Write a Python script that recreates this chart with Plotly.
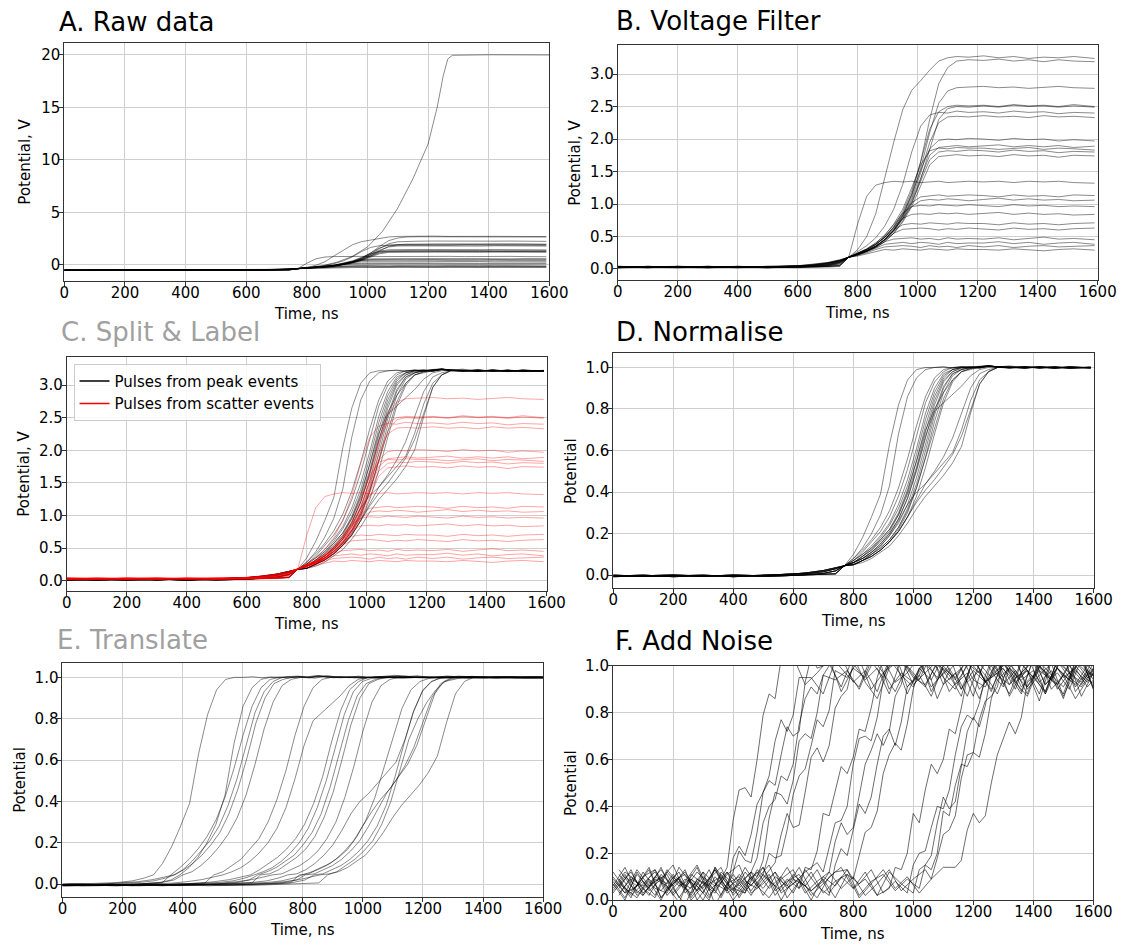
import plotly.graph_objects as go

W, H = 1145, 952
FONT = "DejaVu Sans"

# ---------------- data ----------------
x_ticks = [0, 200, 400, 600, 800, 1000, 1200, 1400, 1600]

# B. voltage-filtered pulses (V) on a shared time grid (ns)
t_filtered = [0, 100, 200, 300, 400, 500, 600, 650, 700, 740, 770,
              800, 830, 860, 890, 920, 950, 980, 1010, 1040, 1070, 1100, 1130, 1170,
              1220, 1270, 1320, 1370, 1420, 1470, 1520, 1590]
filtered_pulses = [
    [0.03,0.04,0.03,0.03,0.04,0.03,0.05,0.06,0.09,0.13,0.18, 0.30,0.50,0.85,1.40,1.95,2.45,2.75,2.90,3.06,3.20,3.25,3.27,3.26, 3.28,3.25,3.27,3.24,3.26,3.25,3.27,3.24],
    [0.02,0.03,0.04,0.03,0.02,0.04,0.03,0.04,0.06,0.10,0.18, 0.23,0.28,0.35,0.45,0.60,0.82,1.15,1.65,2.30,2.85,3.10,3.20,3.22, 3.21,3.23,3.20,3.22,3.19,3.22,3.20,3.19],
    [0.04,0.03,0.03,0.04,0.03,0.02,0.03,0.04,0.05,0.08,0.18, 0.23,0.28,0.35,0.45,0.60,0.82,1.12,1.55,2.10,2.55,2.74,2.79,2.80, 2.81,2.79,2.80,2.78,2.80,2.81,2.79,2.78],
    [0.03,0.02,0.04,0.03,0.03,0.04,0.05,0.07,0.10,0.14,0.18, 0.24,0.30,0.38,0.49,0.65,0.88,1.20,1.65,2.15,2.42,2.50,2.52,2.51, 2.52,2.50,2.53,2.51,2.52,2.50,2.53,2.50],
    [0.03,0.04,0.02,0.03,0.04,0.03,0.04,0.05,0.08,0.12,0.18, 0.27,0.36,0.48,0.66,0.92,1.30,1.80,2.20,2.37,2.41,2.40,2.43,2.41, 2.42,2.40,2.43,2.41,2.42,2.39,2.41,2.40],
    [0.02,0.03,0.03,0.04,0.03,0.03,0.02,0.03,0.04,0.06,0.18, 0.23,0.28,0.35,0.46,0.60,0.80,1.08,1.48,1.95,2.25,2.34,2.35,2.34, 2.36,2.34,2.35,2.33,2.36,2.34,2.35,2.33],
    [0.04,0.03,0.04,0.02,0.03,0.04,0.03,0.05,0.07,0.11,0.18, 0.22,0.27,0.33,0.42,0.55,0.74,1.00,1.38,1.85,2.30,2.47,2.50,2.49, 2.51,2.49,2.52,2.50,2.51,2.49,2.51,2.49],
    [0.03,0.03,0.02,0.04,0.03,0.02,0.04,0.06,0.09,0.13,0.18, 0.24,0.30,0.38,0.49,0.64,0.85,1.15,1.52,1.85,1.98,2.00,1.99,2.01, 2.00,1.98,2.01,1.99,2.00,1.97,1.99,1.97],
    [0.02,0.04,0.03,0.03,0.02,0.03,0.03,0.04,0.05,0.09,0.18, 0.23,0.28,0.35,0.45,0.59,0.78,1.05,1.40,1.75,1.87,1.89,1.90,1.88, 1.89,1.91,1.88,1.90,1.88,1.90,1.87,1.89],
    [0.04,0.03,0.03,0.02,0.04,0.03,0.05,0.06,0.09,0.12,0.18, 0.25,0.31,0.40,0.52,0.69,0.92,1.25,1.60,1.82,1.86,1.85,1.87,1.86, 1.86,1.84,1.85,1.87,1.84,1.86,1.85,1.83],
    [0.03,0.02,0.04,0.03,0.03,0.02,0.03,0.03,0.04,0.05,0.18, 0.23,0.28,0.35,0.45,0.58,0.77,1.02,1.36,1.68,1.80,1.82,1.81,1.83, 1.82,1.80,1.83,1.81,1.82,1.79,1.81,1.80],
    [0.03,0.04,0.03,0.04,0.02,0.04,0.04,0.05,0.07,0.11,0.18, 0.22,0.27,0.33,0.42,0.55,0.72,0.96,1.28,1.60,1.73,1.75,1.76,1.74, 1.75,1.73,1.76,1.74,1.75,1.72,1.75,1.74],
    [0.02,0.03,0.03,0.03,0.04,0.03,0.03,0.04,0.06,0.10,0.18, 0.70,1.12,1.29,1.33,1.35,1.34,1.35,1.33,1.34,1.35,1.33,1.34,1.35, 1.34,1.35,1.33,1.35,1.34,1.35,1.33,1.32],
    [0.04,0.03,0.02,0.03,0.03,0.04,0.05,0.07,0.10,0.14,0.18, 0.24,0.30,0.38,0.49,0.64,0.83,1.02,1.11,1.13,1.14,1.12,1.13,1.14, 1.13,1.11,1.14,1.12,1.13,1.11,1.14,1.13],
    [0.03,0.03,0.04,0.02,0.03,0.03,0.02,0.03,0.04,0.06,0.18, 0.23,0.28,0.35,0.45,0.59,0.77,0.96,1.05,1.07,1.06,1.08,1.07,1.05, 1.07,1.09,1.06,1.08,1.06,1.07,1.05,1.06],
    [0.02,0.04,0.03,0.04,0.03,0.02,0.04,0.05,0.08,0.12,0.18, 0.25,0.31,0.40,0.52,0.68,0.86,0.96,0.98,0.97,0.99,0.98,0.97,0.99, 0.98,0.96,0.99,0.97,0.98,0.96,0.97,0.96],
    [0.03,0.03,0.03,0.02,0.04,0.03,0.03,0.04,0.05,0.08,0.18, 0.24,0.30,0.38,0.49,0.63,0.78,0.84,0.85,0.84,0.86,0.85,0.86,0.84, 0.85,0.87,0.84,0.86,0.84,0.85,0.83,0.84],
    [0.04,0.02,0.03,0.03,0.03,0.04,0.04,0.06,0.09,0.13,0.18, 0.23,0.29,0.37,0.48,0.60,0.68,0.70,0.69,0.71,0.70,0.69,0.71,0.70, 0.70,0.68,0.71,0.69,0.70,0.68,0.70,0.71],
    [0.03,0.04,0.04,0.03,0.02,0.03,0.03,0.03,0.04,0.05,0.18, 0.22,0.27,0.34,0.44,0.55,0.61,0.62,0.63,0.62,0.60,0.62,0.61,0.63, 0.62,0.60,0.63,0.61,0.62,0.60,0.62,0.63],
    [0.02,0.03,0.03,0.04,0.03,0.03,0.05,0.06,0.09,0.13,0.18, 0.22,0.27,0.34,0.42,0.46,0.47,0.48,0.46,0.47,0.45,0.48,0.46,0.47, 0.46,0.48,0.45,0.47,0.49,0.46,0.47,0.45],
    [0.03,0.02,0.04,0.03,0.04,0.02,0.03,0.04,0.06,0.10,0.18, 0.21,0.26,0.32,0.38,0.40,0.41,0.39,0.41,0.40,0.38,0.41,0.39,0.40, 0.40,0.42,0.39,0.41,0.38,0.40,0.41,0.38],
    [0.04,0.03,0.03,0.02,0.03,0.04,0.04,0.05,0.07,0.11,0.18, 0.21,0.25,0.30,0.34,0.35,0.36,0.35,0.33,0.36,0.34,0.35,0.33,0.36, 0.34,0.36,0.33,0.35,0.36,0.34,0.35,0.36],
    [0.03,0.03,0.02,0.03,0.03,0.03,0.02,0.03,0.03,0.04,0.18, 0.20,0.23,0.27,0.30,0.29,0.31,0.30,0.29,0.31,0.30,0.29,0.31,0.30, 0.30,0.29,0.31,0.30,0.28,0.30,0.31,0.29],
]
# first two filtered pulses are near the 3.2 V peak; the rest are scatter events (panel C, red)
scatter_first_index = 2

# A. raw data: filtered pulses sit on a raw baseline offset, plus one saturated pulse
raw_baseline_offset = -0.55
t_saturated = [0, 300, 600, 700, 760, 800, 850, 900, 950, 1000, 1050, 1100, 1150,
               1200, 1230, 1250, 1265, 1280, 1400, 1600]
saturated_pulse = [-0.52, -0.52, -0.51, -0.49, -0.38, -0.28, -0.10, 0.25, 0.80, 1.70, 3.20,
                   5.40, 8.20, 11.5, 15.0, 18.0, 19.6, 19.95, 20.0, 19.98]

# D. normalised peak pulses on a shared time grid (ns)
t_norm = [0, 100, 200, 300, 400, 500, 600, 650, 700, 740, 770,
          800, 830, 860, 890, 920, 950, 980, 1010, 1040, 1070, 1100, 1130, 1160, 1190, 1220, 1250, 1280,
          1320, 1370, 1420, 1470, 1520, 1590]
norm_pulses = [
    [-0.005,0.000,-0.008,-0.003,-0.006,0.000,0.003,0.008,0.016,0.030,0.045, 0.10,0.18,0.28,0.39,0.63,0.82,0.94,0.99,1.00,1.00,1.003,0.998,1.002,0.997,1.004,1.006,1.002, 1.008,0.998,1.003,0.996,1.002,0.999],
    [0.000,-0.006,-0.002,-0.007,0.001,-0.004,-0.002,0.002,0.008,0.020,0.045, 0.08,0.13,0.20,0.29,0.43,0.68,0.86,0.95,0.99,1.00,1.002,0.997,1.004,1.000,0.996,1.005,1.003, 1.001,1.004,0.997,1.002,0.998,1.001],
    [-0.008,-0.003,0.001,-0.005,-0.002,-0.007,-0.001,0.000,0.002,0.006,0.045, 0.08,0.12,0.17,0.23,0.31,0.42,0.56,0.72,0.86,0.95,0.99,1.00,1.003,0.998,1.004,1.007,1.003, 0.999,1.003,0.998,1.002,0.997,1.000],
    [-0.003,-0.007,-0.004,0.000,-0.008,-0.003,0.005,0.012,0.022,0.035,0.045, 0.07,0.11,0.16,0.21,0.28,0.38,0.51,0.67,0.83,0.93,0.98,1.00,1.001,1.004,0.998,1.008,1.002, 1.003,0.998,1.001,0.996,1.003,0.999],
    [-0.005,0.000,-0.008,-0.003,-0.006,0.000,0.003,0.008,0.016,0.030,0.045, 0.07,0.10,0.14,0.19,0.25,0.34,0.46,0.61,0.78,0.90,0.97,0.99,1.00,1.003,0.999,1.006,1.004, 0.998,1.002,0.999,1.003,0.997,1.002],
    [0.000,-0.006,-0.002,-0.007,0.001,-0.004,-0.002,0.002,0.008,0.020,0.045, 0.06,0.09,0.13,0.18,0.24,0.32,0.43,0.58,0.75,0.88,0.96,0.99,1.00,0.998,1.004,1.009,1.002, 1.001,0.997,1.003,0.999,1.002,0.998],
    [-0.008,-0.003,0.001,-0.005,-0.002,-0.007,-0.001,0.000,0.002,0.006,0.045, 0.06,0.09,0.12,0.17,0.22,0.30,0.41,0.55,0.72,0.86,0.95,0.99,1.00,1.003,0.998,1.006,1.001, 0.999,1.004,0.998,1.001,0.996,1.002],
    [-0.003,-0.007,-0.004,0.000,-0.008,-0.003,0.005,0.012,0.022,0.035,0.045, 0.07,0.10,0.13,0.17,0.22,0.29,0.39,0.52,0.69,0.84,0.94,0.98,1.00,1.002,1.005,1.010,1.003, 1.002,0.998,1.003,0.997,1.001,0.999],
    [-0.005,0.000,-0.008,-0.003,-0.006,0.000,0.003,0.008,0.016,0.030,0.045, 0.06,0.08,0.11,0.15,0.20,0.27,0.37,0.50,0.66,0.82,0.93,0.98,0.995,1.001,1.004,1.008,1.002, 0.998,1.002,0.997,1.003,0.999,1.001],
    [0.000,-0.006,-0.002,-0.007,0.001,-0.004,-0.002,0.002,0.008,0.020,0.045, 0.06,0.08,0.11,0.14,0.19,0.25,0.34,0.47,0.63,0.79,0.91,0.97,0.99,1.00,1.003,1.007,1.004, 1.003,0.999,1.002,0.996,1.003,0.998],
    [-0.008,-0.003,0.001,-0.005,-0.002,-0.007,-0.001,0.000,0.002,0.006,0.045, 0.05,0.07,0.10,0.13,0.17,0.23,0.32,0.44,0.60,0.77,0.90,0.97,0.99,1.00,1.002,1.006,1.001, 0.997,1.003,0.999,1.002,0.998,1.001],
    [-0.003,-0.007,-0.004,0.000,-0.008,-0.003,0.005,0.012,0.022,0.035,0.045, 0.05,0.07,0.09,0.12,0.16,0.22,0.30,0.42,0.57,0.74,0.88,0.96,0.99,1.00,1.004,1.008,1.002, 1.001,0.998,1.004,0.999,1.002,0.997],
    [-0.005,0.000,-0.008,-0.003,-0.006,0.000,0.003,0.008,0.016,0.030,0.045, 0.06,0.08,0.10,0.13,0.17,0.23,0.31,0.42,0.56,0.71,0.85,0.94,0.98,0.995,1.002,1.007,1.003, 0.999,1.002,0.998,1.003,0.997,1.000],
    [0.000,-0.006,-0.002,-0.007,0.001,-0.004,-0.002,0.002,0.008,0.020,0.045, 0.05,0.07,0.09,0.12,0.16,0.21,0.28,0.38,0.52,0.68,0.83,0.93,0.98,0.995,1.001,1.006,1.004, 1.002,0.998,1.001,0.997,1.003,0.999],
    [-0.008,-0.003,0.001,-0.005,-0.002,-0.007,-0.001,0.000,0.002,0.006,0.045, 0.06,0.09,0.12,0.16,0.21,0.29,0.40,0.55,0.70,0.80,0.88,0.94,0.98,0.99,1.00,1.005,1.002, 0.998,1.003,0.999,1.002,0.996,1.001],
    [-0.003,-0.007,-0.004,0.000,-0.008,-0.003,0.005,0.012,0.022,0.035,0.045, 0.06,0.08,0.11,0.15,0.20,0.27,0.37,0.51,0.67,0.79,0.83,0.87,0.91,0.96,0.99,1.00,1.004, 1.002,0.998,1.003,0.999,1.001,0.997],
    [-0.005,0.000,-0.008,-0.003,-0.006,0.000,0.003,0.008,0.016,0.030,0.045, 0.05,0.07,0.10,0.14,0.19,0.26,0.34,0.40,0.44,0.49,0.54,0.59,0.70,0.84,0.94,0.98,1.00, 1.003,0.999,1.002,0.997,1.001,0.998],
    [0.000,-0.006,-0.002,-0.007,0.001,-0.004,-0.002,0.002,0.008,0.020,0.045, 0.05,0.07,0.09,0.12,0.16,0.21,0.28,0.36,0.44,0.50,0.57,0.66,0.78,0.90,0.97,0.99,1.00, 1.002,0.998,1.003,0.999,1.001,0.998],
    [-0.008,-0.003,0.001,-0.005,-0.002,-0.007,-0.001,0.000,0.002,0.006,0.045, 0.05,0.07,0.09,0.12,0.16,0.21,0.28,0.35,0.41,0.46,0.52,0.58,0.67,0.80,0.92,0.98,1.00, 1.001,0.997,1.002,0.999,1.003,0.998],
    [-0.003,-0.007,-0.004,0.000,-0.008,-0.003,0.005,0.012,0.022,0.035,0.045, 0.05,0.06,0.08,0.11,0.14,0.19,0.25,0.32,0.38,0.43,0.48,0.54,0.62,0.78,0.92,0.98,1.00, 0.999,1.003,0.998,1.002,0.997,1.001],
]
# C. peak pulses in volts = baseline + amplitude * normalised pulse
peak_baseline = 0.03
peak_amplitude = 3.19

# E. time shift (ns) applied to each normalised pulse
translate_shifts = [-467, -379, -409, -399, -396, -369, -266, -144, -132, -119, -110, -70,
                    30, 67, 113, -236, -20, 39, 19, 88]

# F. noisy translated pulses, sampled every 40 ns on two interleaved grids,
#    plus extra samples (every 20 ns) along each rising edge
t_noise_a = [0, 40, 80, 120, 160, 200, 240, 280, 320, 360, 400, 440, 480, 520, 560, 600, 640, 680,
             720, 760, 800, 840, 880, 920, 960, 1000, 1040, 1080, 1120, 1160, 1200, 1240, 1280,
             1320, 1360, 1400, 1440, 1480, 1520, 1560, 1600]
t_noise_b = [20, 60, 100, 140, 180, 220, 260, 300, 340, 380, 420, 460, 500, 540, 580, 620, 660, 700,
             740, 780, 820, 860, 900, 940, 980, 1020, 1060, 1100, 1140, 1180, 1220, 1260, 1300,
             1340, 1380, 1420, 1460, 1500, 1540, 1580, 1620]
noisy_pulses_a = [
    [0.04,0.11,0.02,0.07,0.13,0.05,-0.02,0.09,0.06,0.09,0.34,0.48,0.60,0.88,1.03,1.04,0.92,0.97,1.03,0.89,0.99,0.95,1.05,0.90,0.97,0.93,1.02,0.86,0.98,1.04,0.94,0.91,1.01,0.96,0.88,1.03,0.97,0.92,1.00,0.94,0.99],
    [0.10,0.03,0.06,0.14,0.01,0.08,0.11,0.04,0.13,0.02,0.12,0.17,0.29,0.51,0.62,0.70,0.93,0.99,1.01,0.91,1.04,0.93,0.86,0.99,1.03,0.92,0.97,1.02,0.89,0.96,1.04,0.93,0.97,0.88,1.01,0.95,1.03,0.90,0.97,1.02,0.91],
    [0.07,0.00,0.12,0.04,0.09,0.15,0.03,0.08,0.01,0.11,0.05,0.03,0.10,0.35,0.45,0.51,0.71,0.80,1.00,1.04,0.93,0.98,0.89,1.03,0.96,0.91,1.01,0.95,1.05,0.90,0.98,0.93,1.02,0.87,0.97,1.03,0.92,0.99,0.94,1.04,0.90],
    [0.12,0.05,0.01,0.09,0.04,0.11,0.06,0.14,0.02,0.08,0.03,0.12,0.06,0.13,0.28,0.31,0.46,0.65,0.66,0.87,1.01,0.94,0.99,0.88,1.03,0.95,0.92,1.01,0.96,0.87,1.04,0.93,0.98,1.02,0.91,0.96,0.88,1.03,0.97,0.92,1.01],
    [0.06,0.14,0.03,0.08,0.00,0.10,0.05,0.12,0.07,0.01,0.11,0.04,0.09,0.15,0.03,0.07,0.12,0.16,0.22,0.34,0.58,0.70,0.78,1.02,1.03,0.96,0.91,1.02,0.94,0.99,0.87,1.04,0.96,0.92,1.01,0.95,0.89,1.02,0.97,0.93,1.03],
    [0.09,0.03,0.13,0.06,0.10,0.02,0.08,0.15,0.04,0.09,0.00,0.07,0.12,0.05,0.10,0.03,0.13,0.06,0.02,0.22,0.30,0.37,0.58,0.73,0.76,0.94,1.03,0.94,0.99,0.90,1.02,0.96,0.88,1.01,0.95,1.04,0.92,0.97,0.90,1.03,0.94],
    [0.03,0.10,0.06,0.13,0.01,0.07,0.12,0.04,0.09,0.14,0.02,0.08,0.05,0.11,0.00,0.09,0.06,0.13,0.03,0.10,0.05,0.12,0.02,0.05,0.13,0.37,0.47,0.54,0.73,0.82,1.03,1.02,0.94,0.99,0.89,1.03,0.96,0.92,1.01,0.87,0.97],
    [0.08,0.01,0.11,0.05,0.14,0.03,0.09,0.06,0.00,0.12,0.07,0.03,0.13,0.08,0.04,0.11,0.06,0.01,0.10,0.14,0.05,0.09,0.02,0.12,0.07,0.03,0.15,0.33,0.39,0.57,0.78,0.83,1.02,0.92,0.97,1.02,0.88,0.99,0.94,1.04,0.90],
    [0.05,0.12,0.08,0.02,0.11,0.06,0.13,0.00,0.07,0.10,0.04,0.14,0.06,0.01,0.09,0.13,0.03,0.08,0.12,0.05,0.10,0.02,0.07,0.13,0.04,0.09,0.13,0.18,0.30,0.52,0.63,0.71,0.94,0.99,0.94,0.98,0.89,1.02,0.95,0.91,0.99],
]
edge_t_a = [
    [340, 380, 420, 460, 500, 540],
    [420, 460, 500, 540, 580, 620, 660],
    [460, 500, 540, 580, 620, 660, 700],
    [540, 580, 620, 660, 700, 740, 780],
    [700, 740, 780, 820, 860, 900],
    [740, 780, 820, 860, 900, 940, 980],
    [940, 980, 1020, 1060, 1100, 1140, 1180],
    [1020, 1060, 1100, 1140, 1180, 1220, 1260],
    [1060, 1100, 1140, 1180, 1220, 1260, 1300],
]
edge_v_a = [
    [0.14, 0.14, 0.47, 0.44, 0.79, 0.86],
    [0.21, 0.16, 0.46, 0.49, 0.74, 0.72, 1.04],
    [0.12, 0.17, 0.46, 0.41, 0.68, 0.69, 0.96],
    [0.16, 0.37, 0.32, 0.61, 0.59, 0.82, 0.90],
    [0.12, 0.33, 0.40, 0.69, 0.68, 0.94],
    [0.15, 0.19, 0.41, 0.44, 0.70, 0.66, 0.91],
    [0.14, 0.20, 0.33, 0.58, 0.60, 0.71, 0.95],
    [0.13, 0.19, 0.44, 0.42, 0.72, 0.74, 0.97],
    [0.09, 0.28, 0.36, 0.62, 0.61, 0.86, 0.91],
]
noisy_pulses_b = [
    [0.08,0.01,0.12,0.05,0.03,0.14,0.07,0.00,0.10,0.04,0.23,0.28,0.46,0.68,0.72,0.95,0.95,0.88,1.02,0.96,0.91,1.04,0.97,0.89,1.00,0.94,1.05,0.92,0.97,0.87,1.01,0.95,0.99,0.90,1.04,0.93,0.98,0.86,1.02,0.95,0.97],
    [0.05,0.13,0.02,0.09,0.06,-0.01,0.11,0.07,0.03,0.12,0.06,0.12,0.33,0.43,0.51,0.75,0.91,0.96,0.94,0.98,0.90,1.02,0.95,1.05,0.91,0.96,0.87,1.00,0.94,1.03,0.97,0.90,1.01,0.95,0.98,0.85,1.02,0.96,0.92,1.00,0.96],
    [0.03,0.09,0.06,0.13,0.02,0.08,0.05,0.12,-0.02,0.07,0.10,0.04,0.11,0.18,0.30,0.53,0.66,0.74,0.98,0.95,1.03,0.90,0.97,1.02,0.88,0.99,0.94,1.04,0.92,0.97,0.86,1.01,0.95,1.03,0.91,0.98,0.94,1.05,0.89,0.96,1.00],
    [0.09,0.02,0.07,0.12,0.04,0.10,0.00,0.06,0.13,0.05,0.09,0.02,0.11,0.06,0.14,0.05,0.13,0.37,0.47,0.54,0.73,0.82,1.03,0.93,0.97,1.04,0.89,0.99,0.95,1.03,0.90,0.96,1.01,0.93,0.87,1.00,0.95,1.04,0.91,0.98,0.94],
    [0.02,0.10,0.05,0.01,0.12,0.06,0.09,0.03,0.14,0.07,0.02,0.10,0.05,0.12,0.01,0.08,0.04,0.08,0.25,0.28,0.44,0.64,0.66,0.87,1.03,1.02,0.91,0.97,1.04,0.93,0.98,0.89,1.03,0.96,0.91,1.00,0.94,0.88,1.02,0.97,0.95],
    [0.11,0.04,0.08,0.02,0.13,0.07,0.03,0.10,0.06,0.12,0.01,0.09,0.14,0.04,0.08,0.11,0.02,0.07,0.12,0.13,0.19,0.31,0.54,0.67,0.75,0.99,1.03,0.95,0.90,1.01,0.97,1.05,0.92,0.98,0.88,1.02,0.96,0.91,1.00,0.94,1.03],
    [0.06,0.12,0.03,0.08,0.11,0.01,0.09,0.05,0.13,0.03,0.07,0.12,0.02,0.10,0.06,0.14,0.04,0.09,0.01,0.11,0.07,0.13,0.03,0.08,0.03,0.20,0.31,0.39,0.62,0.79,0.84,1.02,1.02,0.93,0.98,0.88,1.03,0.95,0.99,0.91,0.97],
    [0.13,0.06,0.02,0.10,0.07,0.12,0.01,0.08,0.04,0.11,0.15,0.03,0.07,0.12,0.05,0.09,0.00,0.10,0.06,0.13,0.02,0.08,0.11,0.04,0.09,0.05,0.13,0.38,0.49,0.57,0.77,0.87,1.03,1.03,0.90,0.96,1.01,0.87,0.98,0.93,1.02],
    [0.07,0.03,0.10,0.13,0.05,0.09,0.02,0.12,0.07,0.04,0.11,0.06,0.14,0.02,0.09,0.05,0.12,0.03,0.08,0.11,0.01,0.07,0.13,0.05,0.10,0.03,0.09,0.14,0.14,0.30,0.33,0.50,0.69,0.71,0.93,1.04,0.90,0.96,0.86,0.94,0.91],
]
edge_t_b = [
    [400, 440, 480, 520, 560, 600],
    [480, 520, 560, 600, 640, 680],
    [520, 560, 600, 640, 680, 720],
    [640, 680, 720, 760, 800, 840, 880],
    [720, 760, 800, 840, 880, 920, 960],
    [800, 840, 880, 920, 960, 1000],
    [1000, 1040, 1080, 1120, 1160, 1200, 1240],
    [1040, 1080, 1120, 1160, 1200, 1240, 1280],
    [1160, 1200, 1240, 1280, 1320, 1360, 1400],
]
edge_v_b = [
    [0.18, 0.19, 0.41, 0.53, 0.77, 0.79],
    [0.18, 0.40, 0.53, 0.58, 0.86, 0.88],
    [0.20, 0.19, 0.45, 0.56, 0.77, 0.81],
    [0.14, 0.21, 0.36, 0.57, 0.61, 0.72, 0.95],
    [0.12, 0.33, 0.31, 0.58, 0.71, 0.72, 0.92],
    [0.09, 0.29, 0.38, 0.62, 0.64, 0.90],
    [0.15, 0.21, 0.40, 0.47, 0.74, 0.77, 0.96],
    [0.15, 0.20, 0.36, 0.58, 0.63, 0.85, 0.91],
    [0.17, 0.37, 0.36, 0.62, 0.76, 0.78, 0.95],
]

# ---------------- layout geometry (pixels) ----------------
panels = {
    "A": dict(x=(60.6, 556.0), y=(35.0, 277.3), yr=(-1.55, 21.09), dt=5, fmt="d"),
    "B": dict(x=(626.0, 1116.0), y=(36.7, 276.0), yr=(-0.166, 3.447), dt=0.5, fmt=".1f"),
    "C": dict(x=(63.2, 553.3), y=(354.3, 593.3), yr=(-0.160, 3.437), dt=0.5, fmt=".1f"),
    "D": dict(x=(621.3, 1112.0), y=(351.0, 590.3), yr=(-0.063, 1.068), dt=0.2, fmt=".1f"),
    "E": dict(x=(58.7, 549.7), y=(666.7, 905.3), yr=(-0.063, 1.069), dt=0.2, fmt=".1f"),
    "F": dict(x=(621.0, 1111.7), y=(669.5, 908.3), yr=(0.0, 1.0), dt=0.2, fmt=".1f"),
}
order = ["A", "B", "C", "D", "E", "F"]

fig = go.Figure()

def axref(name):
    i = order.index(name) + 1
    return ("x" if i == 1 else f"x{i}"), ("y" if i == 1 else f"y{i}")

def add_line(panel, xs, ys, color, width=0.8):
    xa, ya = axref(panel)
    fig.add_trace(go.Scatter(x=xs, y=ys, mode="lines", xaxis=xa, yaxis=ya,
                             line=dict(color=color, width=width), showlegend=False,
                             hoverinfo="skip"))

GREY = "rgba(0,0,0,0.58)"

# A: raw data
for p in filtered_pulses:
    add_line("A", t_filtered, [v + raw_baseline_offset for v in p], GREY)
add_line("A", t_saturated, saturated_pulse, GREY)

# B: voltage filter
for p in filtered_pulses:
    add_line("B", t_filtered, p, GREY)

# C: split & label
for p in norm_pulses:
    add_line("C", t_norm, [peak_baseline + peak_amplitude * v for v in p], "rgba(0,0,0,0.55)")
for p in filtered_pulses[scatter_first_index:]:
    add_line("C", t_filtered, p, "rgba(255,0,0,0.45)")
xa, ya = axref("C")
fig.add_trace(go.Scatter(x=[None], y=[None], mode="lines", xaxis=xa, yaxis=ya,
                         line=dict(color="black", width=1.5), name="Pulses from peak events"))
fig.add_trace(go.Scatter(x=[None], y=[None], mode="lines", xaxis=xa, yaxis=ya,
                         line=dict(color="red", width=1.5), name="Pulses from scatter events"))

# D: normalise
for p in norm_pulses:
    add_line("D", t_norm, p, GREY)

# E: translate (edge values held where the shifted record does not cover the window)
for p, s in zip(norm_pulses, translate_shifts):
    xs = [t + s for t in t_norm]
    ys = list(p)
    if xs[0] > 0:
        xs = [0] + xs
        ys = [ys[0]] + ys
    if xs[-1] < 1600:
        xs = xs + [1600]
        ys = ys + [ys[-1]]
    add_line("E", xs, ys, GREY)

# F: add noise (merge the regular samples with the extra edge samples, in time order)
def merged(t_grid, vals, et, ev):
    pts = sorted(list(zip(t_grid, vals)) + list(zip(et, ev)))
    return [p[0] for p in pts], [p[1] for p in pts]

for k in range(len(noisy_pulses_a)):
    xs, ys = merged(t_noise_a, noisy_pulses_a[k], edge_t_a[k], edge_v_a[k])
    add_line("F", xs, ys, "rgba(0,0,0,0.72)")
    xs, ys = merged(t_noise_b, noisy_pulses_b[k], edge_t_b[k], edge_v_b[k])
    add_line("F", xs, ys, "rgba(0,0,0,0.72)")

# axes
TICKFONT = dict(family=FONT, size=15, color="black")
common = dict(showgrid=True, gridcolor="#cfcfcf", gridwidth=1, showline=True,
              linecolor="#333333", linewidth=1, mirror=True, ticks="outside", ticklen=4,
              tickcolor="#333333", tickfont=TICKFONT, zeroline=False)
lay = {}
for i, name in enumerate(order, start=1):
    g = panels[name]
    xk = "xaxis" if i == 1 else f"xaxis{i}"
    yk = "yaxis" if i == 1 else f"yaxis{i}"
    xa, ya = axref(name)
    lay[xk] = dict(common, domain=[g["x"][0] / W, g["x"][1] / W], range=[0, 1600],
                   tickvals=x_ticks, anchor=ya, ticklabelstandoff=-6)
    lay[yk] = dict(common, domain=[1 - g["y"][1] / H, 1 - g["y"][0] / H], range=list(g["yr"]),
                   dtick=g["dt"], tick0=0, tickformat=g["fmt"], anchor=xa, ticklabelstandoff=-4)
fig.update_layout(**lay)

# titles and axis labels
titles = [("A. Raw data", 53, 13, "black"), ("B. Voltage Filter", 622, 12, "black"),
          ("C. Split & Label", 55, 329, "#a0a0a0"), ("D. Normalise", 622, 329, "black"),
          ("E. Translate", 51, 643, "#a0a0a0"), ("F. Add Noise", 621, 644, "black")]
ann = []
for text, x, y, col in titles:
    ann.append(dict(text=text, x=x / W, y=1 - y / H, xref="paper", yref="paper",
                    xanchor="left", yanchor="middle", showarrow=False,
                    font=dict(family=FONT, size=26, color=col)))
ylabels = [("Potential, V", 20, 156), ("Potential, V", 582, 157), ("Potential, V", 19, 474),
           ("Potential", 578, 471), ("Potential", 15, 786), ("Potential", 578, 789)]
for text, x, y in ylabels:
    ann.append(dict(text=text, x=x / W, y=1 - y / H, xref="paper", yref="paper",
                    xanchor="center", yanchor="middle", showarrow=False, textangle=-90,
                    font=dict(family=FONT, size=15, color="black")))
xlabels = [(308, 311), (871, 310), (308, 627), (867, 624), (304, 939), (866, 943)]
for x, y in xlabels:
    ann.append(dict(text="Time, ns", x=x / W, y=1 - y / H, xref="paper", yref="paper",
                    xanchor="center", yanchor="middle", showarrow=False,
                    font=dict(family=FONT, size=15, color="black")))

fig.update_layout(
    width=W, height=H, margin=dict(l=0, r=0, t=0, b=0),
    paper_bgcolor="white", plot_bgcolor="white",
    annotations=ann,
    legend=dict(x=70 / W, y=1 - 361.5 / H, xanchor="left", yanchor="top",
                bgcolor="rgba(255,255,255,0.85)", bordercolor="#cccccc", borderwidth=1,
                font=dict(family=FONT, size=15, color="black"), itemwidth=30),
    font=dict(family=FONT),
)

fig.write_html("out.html", config={"displayModeBar": False})
